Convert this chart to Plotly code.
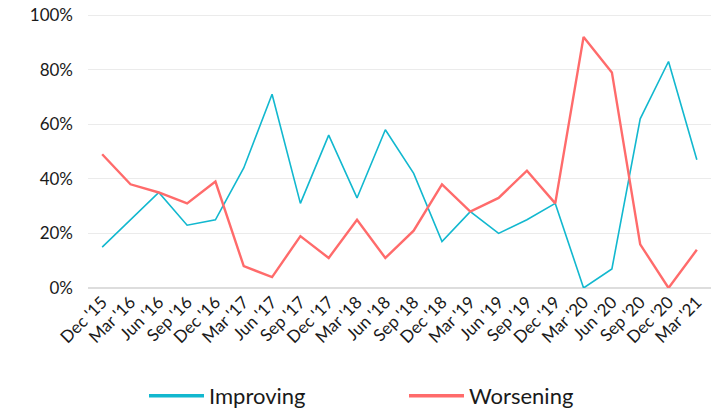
import plotly.graph_objects as go

quarters = ["Dec '15", "Mar '16", "Jun '16", "Sep '16", "Dec '16", "Mar '17", "Jun '17",
            "Sep '17", "Dec '17", "Mar '18", "Jun '18", "Sep '18", "Dec '18", "Mar '19",
            "Jun '19", "Sep '19", "Dec '19", "Mar '20", "Jun '20", "Sep '20", "Dec '20", "Mar '21"]
improving = [15, 25, 35, 23, 25, 44, 71, 31, 56, 33, 58, 42, 17, 28, 20, 25, 31, 0, 7, 62, 83, 47]
worsening = [49, 38, 35, 31, 39, 8, 4, 19, 11, 25, 11, 21, 38, 28, 33, 43, 31, 92, 79, 16, 0, 14]
y_ticks = [0, 20, 40, 60, 80, 100]
y_labels = ["0%", "20%", "40%", "60%", "80%", "100%"]

FONT = "Lato, 'Noto Sans', sans-serif"
C_IMP = "#12B8CF"
C_WOR = "#FF6B6B"

W, H = 720, 413

fig = go.Figure()
fig.add_trace(go.Scatter(x=quarters, y=improving, mode="lines", name="Improving",
                         line=dict(color=C_IMP, width=1.6), showlegend=False))
fig.add_trace(go.Scatter(x=quarters, y=worsening, mode="lines", name="Worsening",
                         line=dict(color=C_WOR, width=2.4), showlegend=False))
# legend entries (thicker sample lines, as in the reference)
fig.add_trace(go.Scatter(x=[None], y=[None], mode="lines", name="Improving",
                         line=dict(color=C_IMP, width=3.5)))
fig.add_trace(go.Scatter(x=[None], y=[None], mode="lines", name="Worsening",
                         line=dict(color=C_WOR, width=3.5)))

fig.update_layout(
    width=W, height=H,
    margin=dict(l=88, r=9, t=14, b=125, autoexpand=False),
    paper_bgcolor="white", plot_bgcolor="white",
    font=dict(family=FONT, color="#1a1a1a"),
    showlegend=True,
    legend=dict(orientation="h", x=144 / W, xanchor="left", xref="container",
                y=17 / H, yanchor="middle", yref="container",
                font=dict(size=22, family=FONT, color="#1a1a1a"),
                itemwidth=55, entrywidth=190, entrywidthmode="pixels",
                traceorder="normal"),
    xaxis=dict(type="category", tickangle=-45, tickfont=dict(size=17),
               range=[-0.5, 21.5], automargin=False, ticklabeloverflow="allow",
               showgrid=False, showline=False, ticks="", zeroline=False),
    yaxis=dict(range=[0, 100.4], tickvals=y_ticks, ticktext=y_labels, automargin=False,
               ticklabeloverflow="allow",
               tickfont=dict(size=17), showgrid=True, gridcolor="#EBEBEB",
               gridwidth=1.3, zeroline=True, zerolinecolor="#DDDDDD", zerolinewidth=2,
               ticks="", ticklabelstandoff=14),
)

# remove the browser's default 8px body margin so the figure fills the window
fig.write_html("out.html", config={"displayModeBar": False},
               post_script="document.body.style.margin='0';")
